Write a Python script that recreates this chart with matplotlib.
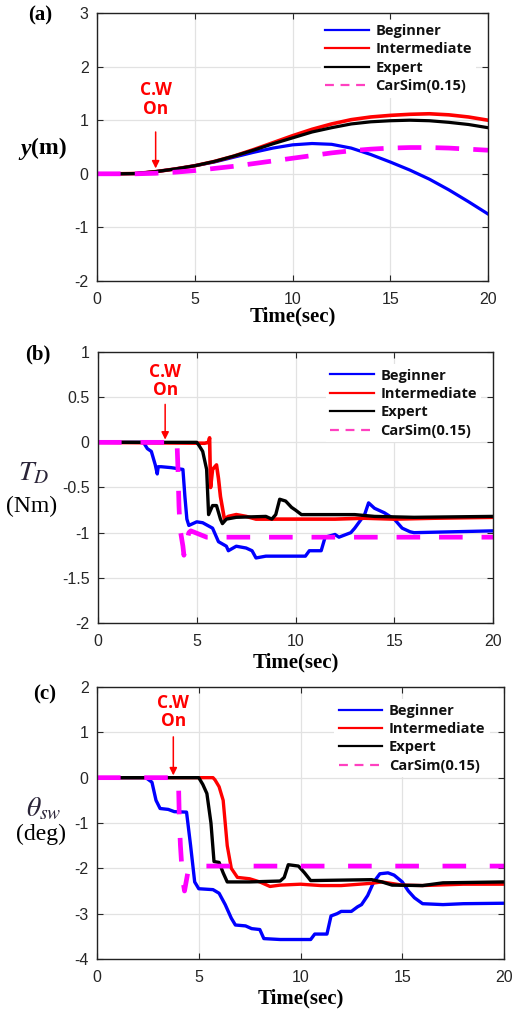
import matplotlib
matplotlib.use("Agg")
import matplotlib.pyplot as plt
from matplotlib.lines import Line2D

# ---------------- data ----------------
t_a = [0, 1, 2, 3, 4, 5, 6, 7, 8, 9, 10, 11, 12, 13, 14, 15, 16, 17, 18, 19, 20]
beginner_a = [0, 0, 0.005, 0.04, 0.09, 0.15, 0.22, 0.31, 0.40, 0.48, 0.54, 0.565, 0.55, 0.48, 0.36, 0.22, 0.07,
              -0.1, -0.3, -0.52, -0.75]
intermediate_a = [0, 0, 0.005, 0.04, 0.09, 0.15, 0.23, 0.33, 0.45, 0.58, 0.71, 0.83, 0.93, 1.01, 1.06, 1.09, 1.11,
                  1.12, 1.10, 1.06, 1.0]
expert_a = [0, 0, 0.005, 0.04, 0.09, 0.15, 0.23, 0.33, 0.44, 0.56, 0.67, 0.78, 0.86, 0.93, 0.97, 0.99, 1.0,
            0.99, 0.96, 0.92, 0.86]
carsim_a = [0, 0, 0, 0.01, 0.03, 0.06, 0.1, 0.14, 0.19, 0.24, 0.29, 0.34, 0.39, 0.43, 0.46, 0.48, 0.49, 0.49,
            0.48, 0.46, 0.44]

# panel (b): T_D (Nm)
t_beg_b = [0, 2.3, 2.5, 2.7, 2.9, 3.0, 3.05, 3.2, 3.7, 4.3, 4.4, 4.5, 4.6, 5.0, 5.3, 5.8, 6.1, 6.5, 6.6, 7.0,
           7.5, 7.8, 8.0, 8.5, 10.5, 10.7, 11.3, 11.5, 12.0, 12.2, 12.8, 13.0, 13.5, 13.7, 14.0, 14.5, 15.0,
           15.4, 15.8, 16.0, 18.0, 20.0]
beginner_b = [0, 0, -0.07, -0.1, -0.25, -0.35, -0.27, -0.27, -0.28, -0.3, -0.6, -0.85, -0.92, -0.88, -0.89,
              -0.95, -1.1, -1.15, -1.2, -1.15, -1.17, -1.2, -1.28, -1.26, -1.26, -1.2, -1.2, -1.05, -1.02,
              -1.05, -1.0, -0.95, -0.8, -0.67, -0.73, -0.78, -0.85, -0.95, -0.99, -1.0, -0.99, -0.98]
t_int_b = [0, 5.4, 5.6, 5.65, 5.7, 5.8, 6.0, 6.1, 6.2, 6.4, 6.6, 7.0, 7.5, 8.0, 10.0, 12.0, 13.5, 15.0, 17.0, 20.0]
intermediate_b = [0, -0.01, 0.0, 0.05, -0.5, -0.3, -0.25, -0.4, -0.6, -0.85, -0.82, -0.8, -0.82, -0.85, -0.85,
                  -0.85, -0.84, -0.85, -0.84, -0.83]
t_exp_b = [0, 5.0, 5.1, 5.3, 5.5, 5.6, 5.8, 6.0, 6.2, 6.3, 6.5, 7.0, 8.5, 8.8, 9.0, 9.2, 9.5, 9.8, 10.0, 10.3,
           13.0, 14.0, 16.0, 20.0]
expert_b = [0, 0, -0.03, -0.1, -0.3, -0.8, -0.7, -0.7, -0.85, -0.9, -0.85, -0.83, -0.82, -0.85, -0.8, -0.63,
            -0.65, -0.72, -0.75, -0.8, -0.8, -0.82, -0.83, -0.82]
t_car_b = [0, 4.0, 4.05, 4.1, 4.15, 4.3, 4.35, 4.6, 4.7, 5.5, 20.0]
carsim_b = [0, 0, -0.3, -0.7, -0.95, -1.15, -1.25, -1.0, -0.98, -1.05, -1.05]

# panel (c): theta_sw (deg)
t_beg_c = [0, 2.4, 2.7, 2.9, 3.1, 3.5, 3.8, 4.4, 4.6, 4.8, 5.0, 5.7, 6.0, 6.3, 6.6, 6.8, 7.3, 7.6, 8.0, 8.2,
           9.0, 10.5, 10.7, 11.3, 11.5, 11.8, 12.0, 12.5, 12.8, 13.0, 13.3, 13.6, 13.9, 14.3, 14.6, 15.0,
           15.3, 15.6, 16.0, 17.0, 18.0, 20.0]
beginner_c = [0, 0, -0.1, -0.5, -0.68, -0.7, -0.75, -0.76, -1.5, -2.3, -2.45, -2.47, -2.55, -2.8, -3.1, -3.25,
              -3.27, -3.33, -3.35, -3.55, -3.57, -3.57, -3.45, -3.45, -3.05, -3.0, -2.95, -2.95, -2.85, -2.8,
              -2.6, -2.3, -2.12, -2.1, -2.15, -2.3, -2.5, -2.65, -2.78, -2.8, -2.78, -2.77]
t_int_c = [0, 5.7, 5.8, 6.0, 6.2, 6.4, 6.6, 6.9, 7.5, 8.0, 8.5, 9.0, 10.0, 11.0, 12.0, 13.5, 14.0, 15.0, 16.0,
           18.0, 20.0]
intermediate_c = [0, 0, -0.05, -0.2, -0.5, -1.5, -2.0, -2.2, -2.23, -2.3, -2.4, -2.37, -2.35, -2.38, -2.38,
                  -2.33, -2.3, -2.37, -2.38, -2.35, -2.35]
t_exp_c = [0, 5.0, 5.2, 5.4, 5.6, 5.75, 6.0, 6.2, 6.4, 7.5, 9.0, 9.2, 9.4, 9.9, 10.2, 10.5, 13.5, 14.0, 14.5,
           16.0, 17.0, 20.0]
expert_c = [0, 0, -0.15, -0.35, -1.0, -1.85, -1.87, -2.1, -2.3, -2.3, -2.28, -2.2, -1.92, -1.95, -2.1, -2.27,
            -2.25, -2.3, -2.37, -2.38, -2.32, -2.3]
t_car_c = [0, 4.0, 4.05, 4.1, 4.2, 4.3, 4.5, 5.0, 20.0]
carsim_c = [0, 0, -1.0, -1.5, -2.2, -2.5, -2.0, -1.95, -1.95]

series_names = ["Beginner", "Intermediate", "Expert", "CarSim(0.15)"]
x_ticks = [0, 5, 10, 15, 20]
y_ticks_a = [-2, -1, 0, 1, 2, 3]
y_ticks_b = [-2, -1.5, -1, -0.5, 0, 0.5, 1]
y_ticks_c = [-4, -3, -2, -1, 0, 1, 2]

# ---------------- style ----------------
C_BLUE = "#0000ff"
C_RED = "#ff0000"
C_BLACK = "#000000"
C_MAG = "#ff00ff"
C_LEG_MAG = "#ff40c0"
SANS = "Liberation Sans"
LEGF = ["Open Sans", "DejaVu Sans"]
SERIF = "Liberation Serif"
plt.rcParams["mathtext.fontset"] = "stix"

fig = plt.figure(figsize=(5.30, 10.09), dpi=100)

positions = [
    [97 / 530, 1 - 281 / 1009, 391 / 530, 268 / 1009],
    [98 / 530, 1 - 623 / 1009, 395 / 530, 271 / 1009],
    [97 / 530, 1 - 959 / 1009, 407 / 530, 272 / 1009],
]
axes = [fig.add_axes(p) for p in positions]


def style_axis(ax, yticks, ylim):
    ax.set_xlim(0, 20)
    ax.set_ylim(*ylim)
    ax.set_xticks(x_ticks)
    ax.set_yticks(yticks)
    ax.set_yticklabels([("%g" % v) for v in yticks])
    ax.grid(True, color="#e2e2e2", lw=0.9)
    ax.set_axisbelow(True)
    ax.tick_params(direction="in", top=True, right=True, length=4, width=0.8,
                   labelsize=11.5, colors="#262626")
    ax.tick_params(axis="y", pad=6)
    ax.tick_params(axis="x", pad=8)
    for lab in ax.get_xticklabels() + ax.get_yticklabels():
        lab.set_fontfamily(SANS)
    for s in ax.spines.values():
        s.set_color("#222222")
        s.set_linewidth(1.0)


def add_legend(ax, anchor):
    handles = [
        Line2D([], [], color=C_BLUE, lw=1.6),
        Line2D([], [], color=C_RED, lw=1.6),
        Line2D([], [], color=C_BLACK, lw=1.6),
        Line2D([], [], color=C_LEG_MAG, lw=1.6, ls=(0, (4, 3))),
    ]
    leg = ax.legend(handles, series_names, loc="upper right", bbox_to_anchor=anchor,
                    prop={"family": LEGF, "weight": "bold", "size": 10.5},
                    frameon=True, fancybox=False, framealpha=1.0, edgecolor="none",
                    facecolor="white", handlelength=3.0, handletextpad=0.45,
                    labelspacing=0.3, borderpad=0.3, borderaxespad=0.0)
    for tx in leg.get_texts():
        tx.set_color("#111111")
    leg.set_zorder(5)


def add_cw(ax, x, tip_y, start_y, text_y):
    ax.annotate("", xy=(x, tip_y), xytext=(x, start_y),
                arrowprops=dict(arrowstyle="-|>", color="red", lw=1.1, mutation_scale=11,
                                shrinkA=0, shrinkB=0), zorder=6)
    ax.text(x, text_y, "C.W\nOn", color="red", fontfamily=LEGF, fontweight="bold",
            fontsize=12.5, ha="center", va="center", linespacing=1.05, zorder=6)


# ---- (a)
ax = axes[0]
ax.plot(t_a, beginner_a, color=C_BLUE, lw=2.3)
ax.plot(t_a, intermediate_a, color=C_RED, lw=2.6)
ax.plot(t_a, expert_a, color=C_BLACK, lw=2.3)
ax.plot(t_a, carsim_a, color=C_MAG, lw=3.4, ls=(0, (5, 3)))
style_axis(ax, y_ticks_a, (-2, 3))
add_legend(ax, (0.97, 0.975))
add_cw(ax, 3.0, 0.1, 0.78, 1.38)

# ---- (b)
ax = axes[1]
ax.plot(t_beg_b, beginner_b, color=C_BLUE, lw=2.4)
ax.plot(t_int_b, intermediate_b, color=C_RED, lw=2.6)
ax.plot(t_exp_b, expert_b, color=C_BLACK, lw=2.4)
ax.plot(t_car_b, carsim_b, color=C_MAG, lw=3.4, ls=(0, (5, 4)))
style_axis(ax, y_ticks_b, (-2, 1))
add_legend(ax, (0.97, 0.955))
add_cw(ax, 3.4, 0.03, 0.42, 0.68)

# ---- (c)
ax = axes[2]
ax.plot(t_beg_c, beginner_c, color=C_BLUE, lw=2.4)
ax.plot(t_int_c, intermediate_c, color=C_RED, lw=2.4)
ax.plot(t_exp_c, expert_c, color=C_BLACK, lw=2.4)
ax.plot(t_car_c, carsim_c, color=C_MAG, lw=3.4, ls=(0, (5, 5)))
style_axis(ax, y_ticks_c, (-4, 2))
add_legend(ax, (0.965, 0.955))
add_cw(ax, 3.75, 0.05, 0.9, 1.45)


def fy(py):
    return 1 - py / 1009


def fx(px):
    return px / 530


# Time labels
for ax, py in zip(axes, [316, 662, 998]):
    bb = ax.get_position()
    fig.text((bb.x0 + bb.x1) / 2, fy(py), "Time(sec)", family=SERIF, weight="bold",
             fontsize=15, ha="center", va="center")

# panel letters
fig.text(fx(40), fy(15), "(a)", family=SERIF, weight="bold", fontsize=15, ha="center", va="center")
fig.text(fx(38), fy(354), "(b)", family=SERIF, weight="bold", fontsize=15, ha="center", va="center")
fig.text(fx(45), fy(694), "(c)", family=SERIF, weight="bold", fontsize=15, ha="center", va="center")

# y labels
fig.text(fx(31), fy(149), "y", family=SERIF, weight="bold", style="italic", fontsize=17,
         ha="right", va="center")
fig.text(fx(31), fy(148), "(m)", family=SERIF, weight="bold", fontsize=17, ha="left", va="center")

fig.text(fx(34), fy(472), r"$\mathbf{\mathit{T}}_{\mathit{D}}$", fontsize=20, color="#2a2438",
         ha="center", va="center")
fig.text(fx(32), fy(506), "(Nm)", family=SERIF, fontsize=17, ha="center", va="center")

fig.text(fx(44), fy(808), r"$\theta_{sw}$", fontsize=20, color="#2a2438", ha="center", va="center")
fig.text(fx(41), fy(834), "(deg)", family=SERIF, fontsize=17, ha="center", va="center")

fig.savefig("out.png", dpi=100)
